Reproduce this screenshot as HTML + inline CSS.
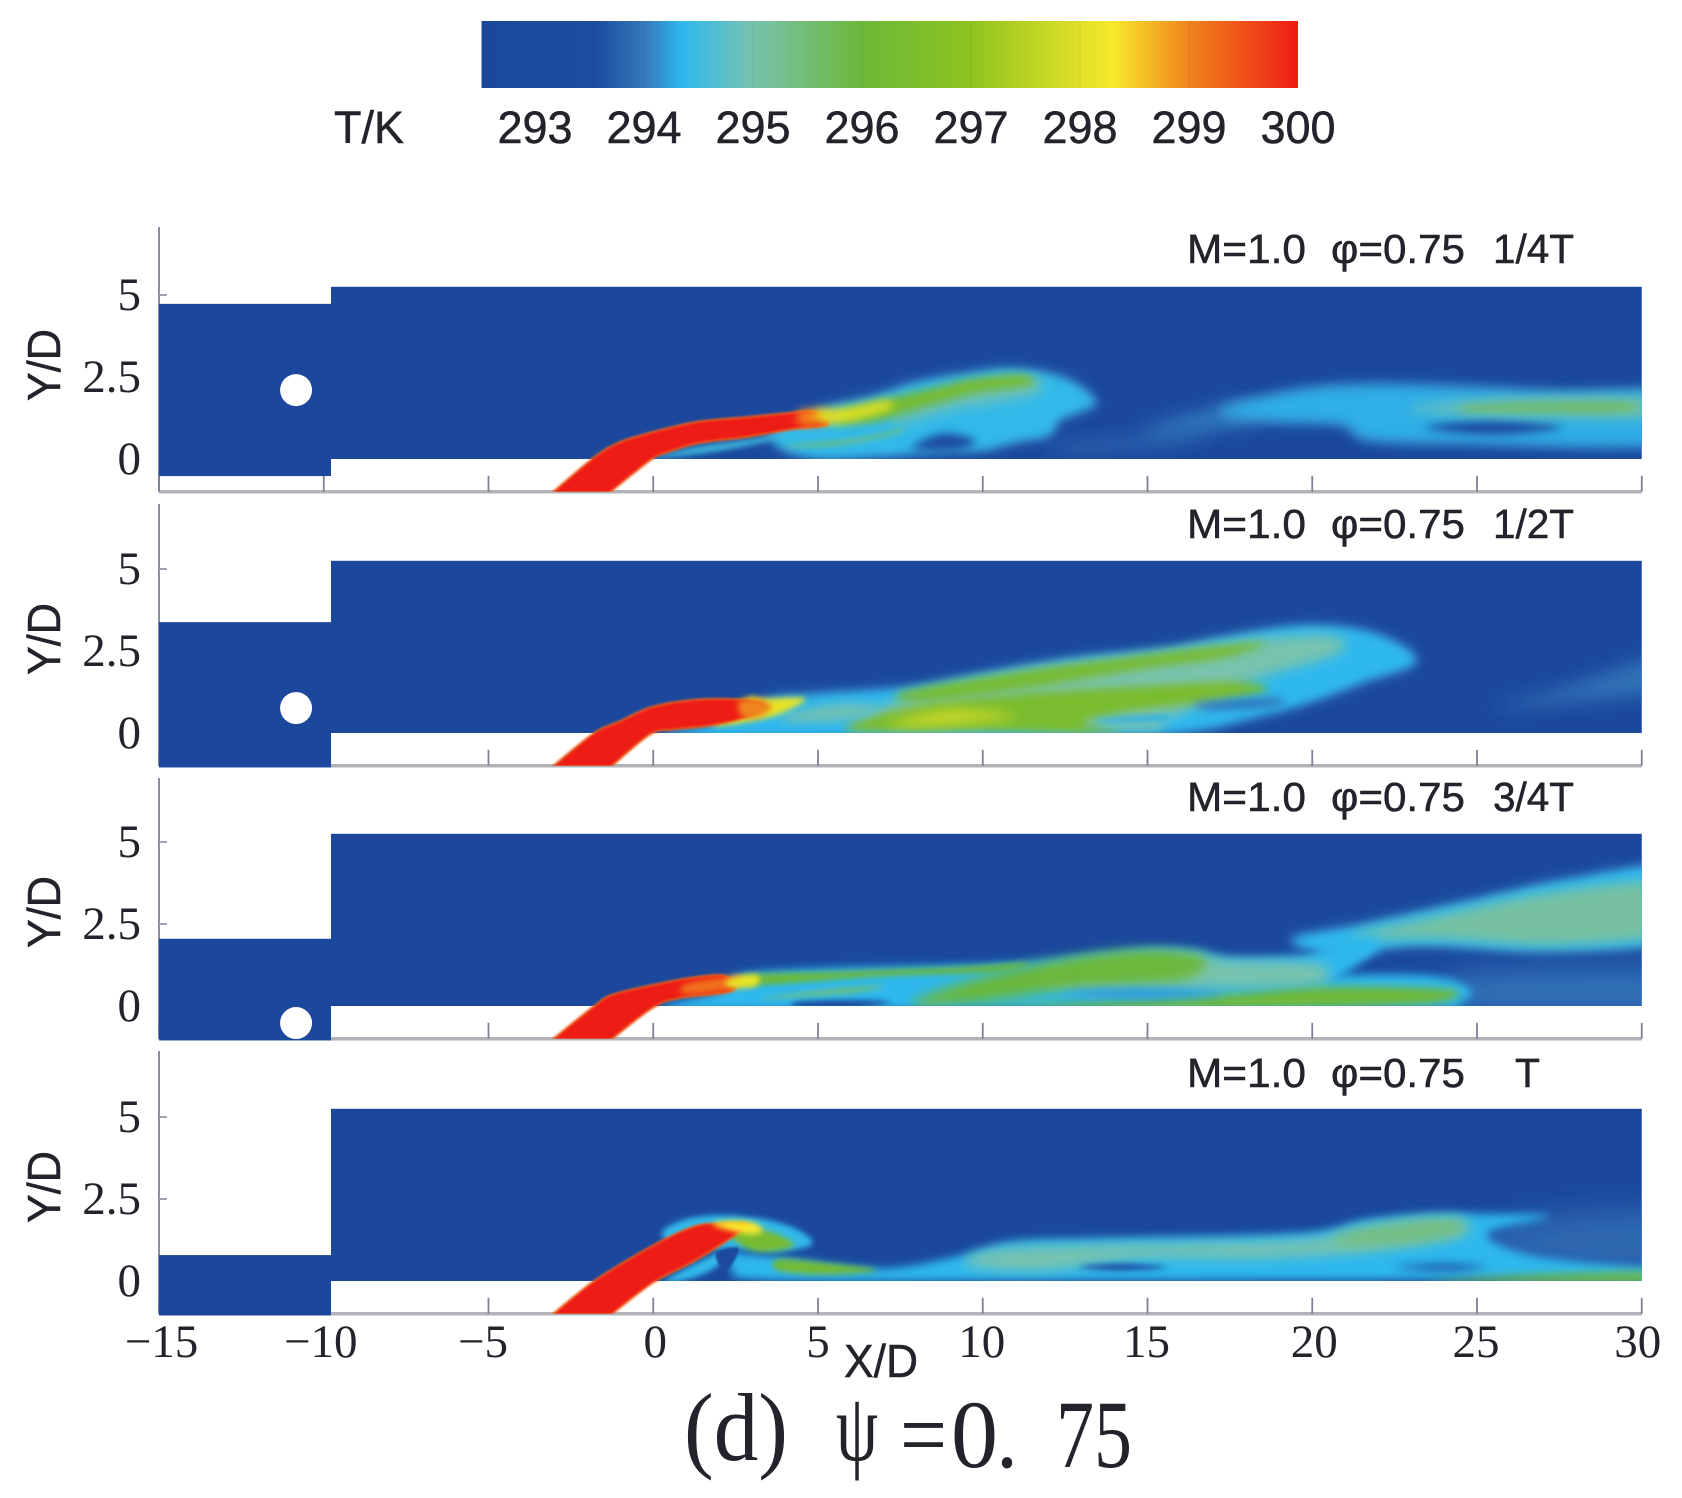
<!DOCTYPE html>
<html>
<head>
<meta charset="utf-8">
<title>T/K contours</title>
<style>
html,body{margin:0;padding:0;background:#fff;}
svg{display:block;}
.sans{font-family:"Liberation Sans",sans-serif;fill:#23232b;stroke:#23232b;stroke-width:.5;}
.serif{font-family:"Liberation Serif",serif;fill:#23232b;}
</style>
</head>
<body>
<svg id="chart" xmlns="http://www.w3.org/2000/svg" width="1682" height="1498" viewBox="0 0 1682 1498">
  <rect width="1682" height="1498" fill="#ffffff"/>
  <defs id="defs"></defs>
  <g id="colorbar"></g>
  <g id="panels"></g>
  <text class="sans" x="334" y="143" font-size="45" textLength="70" lengthAdjust="spacingAndGlyphs">T/K</text>
  <text class="sans" x="844" y="1377" font-size="46" textLength="74" lengthAdjust="spacingAndGlyphs">X/D</text>
  <g class="serif" font-size="96">
    <text class="serif" x="684" y="1460" textLength="104" lengthAdjust="spacingAndGlyphs">(d)</text>
    <text class="serif" x="836" y="1460" textLength="42" lengthAdjust="spacingAndGlyphs">ψ</text>
    <text class="serif" x="900" y="1467" textLength="47" lengthAdjust="spacingAndGlyphs">=</text>
    <text class="serif" x="951" y="1467" textLength="47" lengthAdjust="spacingAndGlyphs">0</text>
    <text class="serif" x="996" y="1467" textLength="22" lengthAdjust="spacingAndGlyphs">.</text>
    <text class="serif" x="1056" y="1467" textLength="76" lengthAdjust="spacingAndGlyphs">75</text>
  </g>
</svg>
<script>
// ---- colour scale ----
const colorTemps=[292.5,293.55,293.85,294,294.35,295,296,297,298.3,299,300];
const colorHex=['#1b489d','#1c4c9f','#2d68b0','#3677bb','#2db8ee','#78c2ae','#6cb83a','#8fc31f','#f7e92a','#f0841e','#ee1c14'];
const colorbarTicks=[293,294,295,296,297,298,299,300];
// ---- axes ----
const xTicks=[-15,-10,-5,0,5,10,15,20,25,30];
const yTicks=[0,2.5,5];
const panelLabels=['1/4T','1/2T','3/4T','T'];
const panelZero=[459,733,1006,1281];
const textBaseline=[263,538,811,1087];
const axisTop=[227,504,778,1051];
const inletTopY=[4.73,3.38,2.05,0.79];
const inletBottomY=[-0.52,-1.05,-1.05,-1.05];
const cylinderY=[2.1,0.76,-0.52];

// ---- panel 1 (1/4T) contours, X/D and Y/D ----
const p1BodyX=[3.8,5.3,6.75,7.95,9.75,10.8,11.9,12.75,13.4,13,12.3,12,11,10,8.8,7,5,3.8], p1BodyY=[.9,1.55,1.9,2.3,2.62,2.72,2.6,2.3,1.75,1.5,1.2,.75,.55,.3,.25,.12,.05,.4], p1BodyT=[294.4];
const p1NotchX=[7.9,8.8,9.8,9.2,8], p1NotchY=[.4,.78,.55,.28,.28], p1NotchT=[293];
const p1TealX=[7.2,9,10.8,11.8,11.6,10.5,9,7.6], p1TealY=[1.3,2,2.45,2.35,2,1.75,1.5,1.1], p1TealT=[294.9];
const p1LowX=[4.1,6,7.5,7.4,5.8,4.3], p1LowY=[.42,.6,.9,.78,.45,.37], p1LowT=[295.5];
const p1UnderX=[-.2,1.2,3,4.3,3.5,1.8,.2], p1UnderY=[0,.35,.62,.9,.55,.22,.02], p1UnderT=[294.5];
const p1GreenX=[5.6,6.75,8.55,9.75,11.2,11.5,9.75,7.95,6.75,5.6], p1GreenY=[1.4,1.75,2.18,2.45,2.56,2.28,2,1.5,1.15,1.1], p1GreenT=[296.3];
const p1YellowX=[4.9,6,7.1,7.2,6.2,5.3], p1YellowY=[1.45,1.58,1.78,1.55,1.22,1.08], p1YellowT=[298];
const p1OrangeX=[4.4,5,5.5,5.2,4.5], p1OrangeY=[1.42,1.5,1.3,1.12,1.02], p1OrangeT=[299];
const p1FaintX=[12,15,17,16,13], p1FaintY=[.4,.7,1,.5,.2], p1FaintT=[293.85];
const p1WakeTailX=[14.8,15.3,16.4,18,18.5,16,14.8], p1WakeTailY=[.85,1.04,1.35,1.7,1.15,.85,.78], p1WakeTailT=[294.05];
const p1WakeX=[17.2,19.5,21.7,24.6,27.5,31,31,24.6,21.7,20.9,18.8], p1WakeY=[1.45,2.05,2.22,2.15,2,1.95,.53,.53,.63,1.09,1.19], p1WakeT=[294.3];
const p1DarkX=[23.4,25.5,27.6,25.5], p1DarkY=[.97,1.18,.97,.74], p1DarkT=[293];
const p1StreakOuterX=[23.2,26,31,31,26,23.2], p1StreakOuterY=[1.6,1.85,1.85,1.3,1.3,1.45], p1StreakOuterT=[294.9];
const p1StreakInnerX=[24.7,27,29.6,29.6,27,24.7], p1StreakInnerY=[1.62,1.72,1.72,1.45,1.42,1.45], p1StreakInnerT=[295.6];
const p1JetX=[-3.1,-1.78,-1.06,-.4,.14,1.34,2.8,4,4.9,5.3,4.2,2.8,1.34,.38,-.1,-1.35], p1JetY=[-1.05,.07,.5,.72,.87,1.14,1.28,1.4,1.46,1.05,.9,.66,.47,.18,-.05,-1.05], p1JetT=[300];

// ---- panel 2 (1/2T) contours ----
const p2BodyX=[3.5,4.9,7.7,10,12.7,15.5,17.3,19.4,21,22.3,23.1,21.6,20,18.2,15.9,11.3,4.5,.4,2], p2BodyY=[1,1.16,1.36,1.77,2.23,2.53,2.89,3.22,3.19,2.84,2.17,1.6,1,.5,.04,-.1,-.1,-.1,.3], p2BodyT=[294.35];
const p2TealX=[7.7,11.3,15,18.2,20.6,20.8,18.2,17.3,15.5,15,9,6.1], p2TealY=[1.1,1.92,2.39,2.85,2.95,2.43,1.62,1.11,.4,.09,.19,.19], p2TealT=[295];
const p2UpperX=[7.6,11.35,14.8,17.3,18.6,17.3,14.8,11.35,8.1], p2UpperY=[1.25,1.9,2.36,2.66,2.75,2.3,1.95,1.38,.98], p2UpperT=[296.3];
const p2MainX=[5.8,8,11.35,14.8,17.75,18.6,16.4,14.1,13,14.1,10.2,7.9], p2MainY=[.15,.82,1.2,1.42,1.55,1.28,.92,.62,.3,.0,.08,.05], p2MainT=[296.4];
const p2SpotX=[7.2,9,11,9,7.4], p2SpotY=[.3,.72,.5,.25,.2], p2SpotT=[297.7];
const p2PocketAX=[16.5,19,18.8,17], p2PocketAY=[.9,1.05,.82,.72], p2PocketAT=[293.9];
const p2PocketBX=[13.6,15.5,15.4,13.7], p2PocketBY=[.42,.55,.38,.33], p2PocketBT=[294.3];
const p2MottleX=[4,5.6,6.8,6,4.2], p2MottleY=[.55,.9,.8,.4,.32], p2MottleT=[294.9];
const p2FaintX=[25.5,27.4,31,31,27.4], p2FaintY=[.8,1.3,2.45,1.4,.9], p2FaintT=[293.95];
const p2YellowX=[2.8,3.4,4.6,4.2,3.4,1.8], p2YellowY=[1.05,1.05,1.06,.75,.45,.25], p2YellowT=[298.1];
const p2OrangeX=[2.6,3.2,3.6,3.2,2.7], p2OrangeY=[.95,1.02,.8,.5,.5], p2OrangeT=[299];
const p2JetX=[-3.1,-1.8,-1,-.1,1.05,2.43,3.3,3.3,2.9,1.74,.6,-.1,-1.3], p2JetY=[-1.05,0,.37,.78,1,1.04,.92,.8,.5,.22,.1,-.05,-1.05], p2JetT=[300];

// ---- panel 3 (3/4T) contours ----
const p3BodyX=[2.6,5.2,9.06,11.35,14.8,16.4,17.5,19.4,20.8,20.8,19.8,23.5,24.8,24.4,22.8,5,.3,2], p3BodyY=[.95,1.15,1.24,1.36,1.75,1.7,1.48,1.52,1.6,1.1,.95,.93,.5,.1,-.1,-.1,-.1,.45], p3BodyT=[294.35];
const p3PocketFloorX=[4.3,5.8,7.2,6,4.5], p3PocketFloorY=[.12,.18,.12,-.08,-.08], p3PocketFloorT=[293];
const p3TealX=[13,15.9,17.5,20,20.5,19.4,13,11.7], p3TealY=[1.3,1.6,1.4,1.3,.9,.6,.55,.8], p3TealT=[295];
const p3TopStreakX=[3,5.6,9.06,11.35,10.4,6.8,3.1], p3TopStreakY=[.95,1.05,1.18,1.3,1.05,.9,.64], p3TopStreakT=[296];
const p3LowStreakX=[3.5,5.5,7,6,3.5], p3LowStreakY=[.27,.52,.62,.4,.22], p3LowStreakT=[295.5];
const p3HumpX=[7.8,9.06,11.35,13.6,15,15.9,16.8,16,13,11,9.5], p3HumpY=[.03,.6,1.2,1.6,1.7,1.65,1.4,.8,.6,.3,.1], p3HumpT=[296];
const p3BandX=[9.5,12,17,20.5,23.9,24.4,22.8,15], p3BandY=[.05,.08,.32,.58,.52,.33,.03,-.1], p3BandT=[296.1];
const p3PocketX=[12.3,14.8,17.3,14.8], p3PocketY=[.36,.54,.36,.2], p3PocketT=[294.2];
const p3WedgeOuterX=[19.4,21.6,25,27.8,31,31,27.4,23.9,22.3,21.2], p3WedgeOuterY=[2,2.47,3.23,3.84,4.15,2.11,1.7,1.86,1.8,1.5], p3WedgeOuterT=[294.35];
const p3WedgeX=[21.2,23.9,27.4,31,31,27.4,23.9], p3WedgeY=[2.11,2.77,3.49,3.74,2.27,1.86,2.06], p3WedgeT=[295.1];
const p3LinkX=[19.6,21.2,22,21,20], p3LinkY=[1.2,2,1.9,1,.7], p3LinkT=[294.35];
const p3LowRightX=[24,25,31,31,24], p3LowRightY=[.5,1,1.05,-.1,-.1], p3LowRightT=[293.95];
const p3YellowX=[2.2,2.7,3.2,3.1,2.4], p3YellowY=[.74,.94,.92,.6,.56], p3YellowT=[298.1];
const p3OrangeX=[1,2.2,2.7,2.6,1.8,.9], p3OrangeY=[.68,.88,.9,.6,.42,.38], p3OrangeT=[299.2];
const p3JetX=[-3.1,-1.8,-1.24,-.1,1.24,2.2,2.4,.82,0,-1.3], p3JetY=[-1.05,0,.35,.63,.88,.92,.46,.24,-.05,-1.05], p3JetT=[300];

// ---- panel 4 (T) contours ----
const p4BodyX=[2.2,3.6,6.8,9,10.9,13.6,19.6,21.6,23.7,25.2,27.2,25.3,26.8,31,31,24,14,3.6,2.4], p4BodyY=[.85,.75,.38,.7,1.2,1.3,1.45,1.86,2.06,2.04,1.97,1.45,.75,.3,.05,.05,.03,.03,.4], p4BodyT=[294.35];
const p4FaintX=[25,27.5,31,31,27.5,25.5], p4FaintY=[1.4,2,2.05,.3,.4,.9], p4FaintT=[293.85];
const p4TealX=[9.5,10.4,13.6,19.6,21.6,23.7,24.7,24.4,21.6,18.2,14.8,11.8], p4TealY=[.49,.95,1.1,1.25,1.66,1.91,1.81,1.35,.89,.69,.69,.33], p4TealT=[295];
const p4TintX=[20.6,22.6,24.4,24.2,21.5], p4TintY=[1.3,1.72,1.82,1.4,1.1], p4TintT=[295.4];
const p4DarkAX=[12.9,14.2,15.6,14.2], p4DarkAY=[.42,.52,.42,.32], p4DarkAT=[293];
const p4DarkBX=[22.5,24,25.3,24], p4DarkBY=[.42,.52,.42,.32], p4DarkBT=[293.4];
const p4FloorX=[24,27,31,31,24], p4FloorY=[.02,.2,.28,-.05,-.05], p4FloorT=[295.9];
const p4LowX=[3.8,5.2,6.8,5.2,3.8], p4LowY=[.66,.55,.33,.2,.32], p4LowT=[296.2];
const p4DomeX=[.25,1.05,2.2,3.57,4.5,4.8,3.8,2.65,1], p4DomeY=[1.45,1.9,2,1.84,1.5,1.1,.9,1,1], p4DomeT=[294.4];
const p4HoodX=[2.4,3.4,4.2,4.1,3.2,2.5], p4HoodY=[1.6,1.55,1.2,1.0,.9,1.2], p4HoodT=[296.3];
const p4CapX=[1.8,2.4,3.1,3.3,2.8], p4CapY=[1.72,1.84,1.76,1.5,1.44], p4CapT=[298.3];
const p4WedgeX=[.4,2.2,2.6,1.7,.8], p4WedgeY=[.05,.98,1,.3,0], p4WedgeT=[294.4];
const p4SlitX=[2.2,2.6,1.9], p4SlitY=[.3,1,.85], p4SlitT=[293];
const p4JetX=[-3.1,-1.8,-.1,1.2,2,2.88,2.65,1.28,0,-1.3], p4JetY=[-1.05,0,1.04,1.66,1.76,1.74,1.5,.62,-.05,-1.05], p4JetT=[300];

// ---- scales ----
const xScale=v=>653.25+v*32.95;
const yScale=(p,v)=>panelZero[p]-v*32.8;
const barScale=t=>535+(t-293)*109;
const channelStart=-9.78;
const tickLabelNudge=[2.5,-3,-5.5,2,0,-1,-1,2,-1,-4];
const SVGNS='http://www.w3.org/2000/svg';
const svg=document.getElementById('chart');
const defs=document.getElementById('defs');
const panelsG=document.getElementById('panels');
const colorbarG=document.getElementById('colorbar');

function make(tag,attrs,parent,txt){
  const e=document.createElementNS(SVGNS,tag);
  for(const k in attrs)e.setAttribute(k,attrs[k]);
  if(txt!==undefined)e.textContent=txt;
  parent.appendChild(e);
  return e;
}
function colormap(t){
  if(t<=colorTemps[0])return colorHex[0];
  for(let i=1;i<colorTemps.length;i++){
    if(t<=colorTemps[i]){
      const f=(t-colorTemps[i-1])/(colorTemps[i]-colorTemps[i-1]);
      const a=parseInt(colorHex[i-1].slice(1),16),b=parseInt(colorHex[i].slice(1),16);
      const ch=s=>Math.round(((a>>s)&255)*(1-f)+((b>>s)&255)*f);
      return 'rgb('+ch(16)+','+ch(8)+','+ch(0)+')';
    }
  }
  return colorHex[colorHex.length-1];
}
// blur filters
[1,2,3,4,6,9].forEach(b=>{
  const f=make('filter',{id:'blur'+b,filterUnits:'userSpaceOnUse',x:0,y:0,width:1682,height:1498},defs);
  make('feGaussianBlur',{stdDeviation:b===1?1:b*1.5},f);
});
// clips per panel
panelZero.forEach((z,p)=>{
  const c=make('clipPath',{id:'flow'+p},defs);
  make('rect',{x:xScale(channelStart),y:yScale(p,5.25),width:xScale(30)-xScale(channelStart),height:yScale(p,0)-yScale(p,5.25)},c);
  const j=make('clipPath',{id:'pipe'+p},defs);
  make('rect',{x:xScale(channelStart),y:yScale(p,5.25),width:xScale(30)-xScale(channelStart),height:yScale(p,-1)-yScale(p,5.25)},j);
});

function splineThrough(pts,closed){
  const n=pts.length;
  let d='M'+pts[0][0].toFixed(1)+' '+pts[0][1].toFixed(1);
  const last=closed?n:n-1;
  const at=i=>closed?pts[(i+n)%n]:pts[Math.max(0,Math.min(n-1,i))];
  for(let i=0;i<last;i++){
    const p0=at(i-1),p1=at(i),p2=at(i+1),p3=at(i+2);
    d+='C'+(p1[0]+(p2[0]-p0[0])/6).toFixed(1)+' '+(p1[1]+(p2[1]-p0[1])/6).toFixed(1)+' '+(p2[0]-(p3[0]-p1[0])/6).toFixed(1)+' '+(p2[1]-(p3[1]-p1[1])/6).toFixed(1)+' '+p2[0].toFixed(1)+' '+p2[1].toFixed(1);
  }
  return d+'Z';
}
const toPixels=(p,xs,ys)=>xs.map((v,i)=>[xScale(v),yScale(p,ys[i])]);
const layerGroups=[];
function contour(p,name,xs,ys,t,blur){
  const el=make('path',{d:splineThrough(toPixels(p,xs,ys),true),fill:colormap(t),filter:'url(#blur'+blur+')'},layerGroups[p]);
  
  
}
// soft outer band that eases the blue background into the cyan envelope
function halo(p,xs,ys){
  const el=make('path',{d:splineThrough(toPixels(p,xs,ys),true),fill:colormap(294),stroke:colormap(294),'stroke-width':5,filter:'url(#blur4)'},layerGroups[p]);
  
  
}
function jet(p,xs,ys,t){
  const gr=make('g',{'clip-path':'url(#pipe'+p+')'},panelsG);
  
  
  const core=make('path',{d:splineThrough(toPixels(p,xs,ys),false),fill:colormap(t),stroke:colormap(299.3),'stroke-width':1.5,'stroke-linejoin':'round',filter:'url(#blur1)'},gr);
  
  
}
function overlay(p){
  const g=make('g',{'clip-path':'url(#flow'+p+')'},panelsG);
  
  
  layerGroups[p]=g;
}

// colorbar
const grad=make('linearGradient',{id:'barGrad',gradientUnits:'userSpaceOnUse',x1:barScale(292.5),x2:barScale(300),y1:0,y2:0},defs);
colorTemps.forEach((t,i)=>make('stop',{offset:((t-292.5)/7.5).toFixed(4),'stop-color':colorHex[i]},grad));
const barRect=make('rect',{x:481.5,y:21,width:barScale(300)-481.5,height:67,fill:'url(#barGrad)'},colorbarG);


colorbarTicks.forEach(t=>{
  if(t>293&&t<300){
    const l=make('line',{x1:barScale(t),x2:barScale(t),y1:21,y2:88,stroke:'#000','stroke-opacity':0.08,'stroke-width':1},colorbarG);
    
    
  }
  const tx=make('text',{class:'sans',x:barScale(t),y:143,'font-size':45,'text-anchor':'middle'},colorbarG,String(t));
  
  
});

// panel frames
panelZero.forEach((z,p)=>{
  const g=make('g',{},panelsG);
  
  
  const bottom=yScale(p,-1);
  const yAxis=make('line',{x1:xScale(-15),x2:xScale(-15),y1:axisTop[p],y2:bottom,stroke:'#8c8f9e','stroke-width':2},g);
  
  
  const xAxis=make('line',{x1:xScale(-15),x2:xScale(30),y1:bottom,y2:bottom,stroke:'#b2b3b8','stroke-width':3.5},g);
  
  
  xTicks.forEach(v=>{
    const t=make('line',{x1:xScale(v),x2:xScale(v),y1:bottom-16,y2:bottom,stroke:'#7c8196','stroke-width':1.8},g);
    
    
  });
  yTicks.forEach(v=>{
    const t=make('line',{x1:xScale(-15),x2:xScale(-15)+8,y1:yScale(p,v),y2:yScale(p,v),stroke:'#a0a2ad','stroke-width':2},g);
    
    
    const lab=make('text',{class:'serif',x:141,y:yScale(p,v)+15,'font-size':47,'text-anchor':'end'},g,String(v));
    
    
  });
  const yt=make('text',{class:'sans',transform:'translate(60,'+(z-58)+') rotate(-90)','font-size':46,textLength:72,lengthAdjust:'spacingAndGlyphs'},g,'Y/D');
  
  
  const inlet=make('rect',{x:xScale(-15),y:yScale(p,inletTopY[p]),width:xScale(channelStart)-xScale(-15),height:yScale(p,inletBottomY[p])-yScale(p,inletTopY[p]),fill:colorHex[0]},g);
  
  
  const ch=make('rect',{x:xScale(channelStart),y:yScale(p,5.25),width:xScale(30)-xScale(channelStart),height:yScale(p,0)-yScale(p,5.25),fill:colorHex[0]},g);
  
  
  if(p<cylinderY.length){
    const cyl=make('circle',{cx:xScale(-10.84),cy:yScale(p,cylinderY[p]),r:16,fill:'#fff'},g);
    
    
  }
  const a1=make('text',{class:'sans',x:1187,y:textBaseline[p],'font-size':41,textLength:119,lengthAdjust:'spacingAndGlyphs'},g,'M=1.0');
  
  
  const a2=make('text',{class:'sans',x:1331,y:textBaseline[p],'font-size':41,textLength:134,lengthAdjust:'spacingAndGlyphs'},g,'φ=0.75');
  
  
  const isT=panelLabels[p]==='T';
  const a3=make('text',{class:'sans',x:isT?1515:1493,y:textBaseline[p],'font-size':41,textLength:isT?25:81,lengthAdjust:'spacingAndGlyphs'},g,panelLabels[p]);
  
  
  const lg=make('g',{'clip-path':'url(#flow'+p+')'},g);
  
  
  layerGroups[p]=lg;
});
// x tick labels
xTicks.forEach((v,i)=>{
  const tx=make('text',{class:'serif',x:xScale(v)+tickLabelNudge[i],y:1357,'font-size':47,'text-anchor':'middle'},svg,String(v).replace('-','\u2212'));
  
  
});

// ---- draw panel 1 ----
contour(0,'faint-wake',p1FaintX,p1FaintY,p1FaintT[0],6);
contour(0,'wake-tail',p1WakeTailX,p1WakeTailY,p1WakeTailT[0],6);
halo(0,p1WakeX,p1WakeY);
contour(0,'wake-envelope',p1WakeX,p1WakeY,p1WakeT[0],4);
contour(0,'wake-dark-core',p1DarkX,p1DarkY,p1DarkT[0],3);
contour(0,'wake-streak-outer',p1StreakOuterX,p1StreakOuterY,p1StreakOuterT[0],4);
contour(0,'wake-streak-inner',p1StreakInnerX,p1StreakInnerY,p1StreakInnerT[0],3);
halo(0,p1BodyX,p1BodyY);
contour(0,'plume-body',p1BodyX,p1BodyY,p1BodyT[0],3);
contour(0,'plume-notch',p1NotchX,p1NotchY,p1NotchT[0],3);
contour(0,'plume-teal',p1TealX,p1TealY,p1TealT[0],4);
contour(0,'plume-low-streak',p1LowX,p1LowY,p1LowT[0],2);
contour(0,'under-jet-band',p1UnderX,p1UnderY,p1UnderT[0],2);
contour(0,'plume-green',p1GreenX,p1GreenY,p1GreenT[0],3);
// ---- draw panel 2 ----
contour(1,'faint-wake',p2FaintX,p2FaintY,p2FaintT[0],6);
halo(1,p2BodyX,p2BodyY);
contour(1,'plume-body',p2BodyX,p2BodyY,p2BodyT[0],3);
contour(1,'plume-teal',p2TealX,p2TealY,p2TealT[0],4);
contour(1,'plume-upper-green',p2UpperX,p2UpperY,p2UpperT[0],3);
contour(1,'plume-main-green',p2MainX,p2MainY,p2MainT[0],3);
contour(1,'plume-hot-spot',p2SpotX,p2SpotY,p2SpotT[0],4);
contour(1,'pocket-upper',p2PocketAX,p2PocketAY,p2PocketAT[0],3);
contour(1,'pocket-lower',p2PocketBX,p2PocketBY,p2PocketBT[0],2);
contour(1,'plume-mottle',p2MottleX,p2MottleY,p2MottleT[0],3);
contour(1,'plume-yellow',p2YellowX,p2YellowY,p2YellowT[0],2);
// ---- draw panel 3 ----
halo(2,p3WedgeOuterX,p3WedgeOuterY);
contour(2,'wedge-envelope',p3WedgeOuterX,p3WedgeOuterY,p3WedgeOuterT[0],3);
contour(2,'wedge-core',p3WedgeX,p3WedgeY,p3WedgeT[0],4);
contour(2,'low-right-wake',p3LowRightX,p3LowRightY,p3LowRightT[0],9);
contour(2,'plume-body',p3BodyX,p3BodyY,p3BodyT[0],3);
contour(2,'wedge-link',p3LinkX,p3LinkY,p3LinkT[0],3);
contour(2,'floor-pocket',p3PocketFloorX,p3PocketFloorY,p3PocketFloorT[0],2);
contour(2,'plume-teal',p3TealX,p3TealY,p3TealT[0],4);
contour(2,'plume-hump',p3HumpX,p3HumpY,p3HumpT[0],4);
contour(2,'floor-band',p3BandX,p3BandY,p3BandT[0],3);
contour(2,'hump-pocket',p3PocketX,p3PocketY,p3PocketT[0],3);
contour(2,'top-streak',p3TopStreakX,p3TopStreakY,p3TopStreakT[0],2);
contour(2,'low-streak',p3LowStreakX,p3LowStreakY,p3LowStreakT[0],2);
// ---- draw panel 4 ----
contour(3,'faint-wake',p4FaintX,p4FaintY,p4FaintT[0],9);
contour(3,'plume-body',p4BodyX,p4BodyY,p4BodyT[0],3);
contour(3,'plume-teal',p4TealX,p4TealY,p4TealT[0],4);
contour(3,'plume-tint',p4TintX,p4TintY,p4TintT[0],4);
contour(3,'dark-core-a',p4DarkAX,p4DarkAY,p4DarkAT[0],2);
contour(3,'dark-core-b',p4DarkBX,p4DarkBY,p4DarkBT[0],3);
contour(3,'floor-streak',p4FloorX,p4FloorY,p4FloorT[0],3);
contour(3,'low-green',p4LowX,p4LowY,p4LowT[0],2);
contour(3,'dome',p4DomeX,p4DomeY,p4DomeT[0],2);
contour(3,'hood-green',p4HoodX,p4HoodY,p4HoodT[0],2);
contour(3,'under-wedge',p4WedgeX,p4WedgeY,p4WedgeT[0],2);
contour(3,'under-slit',p4SlitX,p4SlitY,p4SlitT[0],1);
// jets
jet(0,p1JetX,p1JetY,p1JetT[0]);
jet(1,p2JetX,p2JetY,p2JetT[0]);
jet(2,p3JetX,p3JetY,p3JetT[0]);
jet(3,p4JetX,p4JetY,p4JetT[0]);
// contours painted over the jet tips
overlay(0);
contour(0,'plume-orange',p1OrangeX,p1OrangeY,p1OrangeT[0],3);
contour(0,'plume-yellow',p1YellowX,p1YellowY,p1YellowT[0],3);
overlay(1);
contour(1,'plume-orange',p2OrangeX,p2OrangeY,p2OrangeT[0],2);
overlay(2);
contour(2,'plume-orange',p3OrangeX,p3OrangeY,p3OrangeT[0],2);
contour(2,'plume-yellow',p3YellowX,p3YellowY,p3YellowT[0],2);
overlay(3);
contour(3,'jet-cap',p4CapX,p4CapY,p4CapT[0],2);
</script>
</body>
</html>
